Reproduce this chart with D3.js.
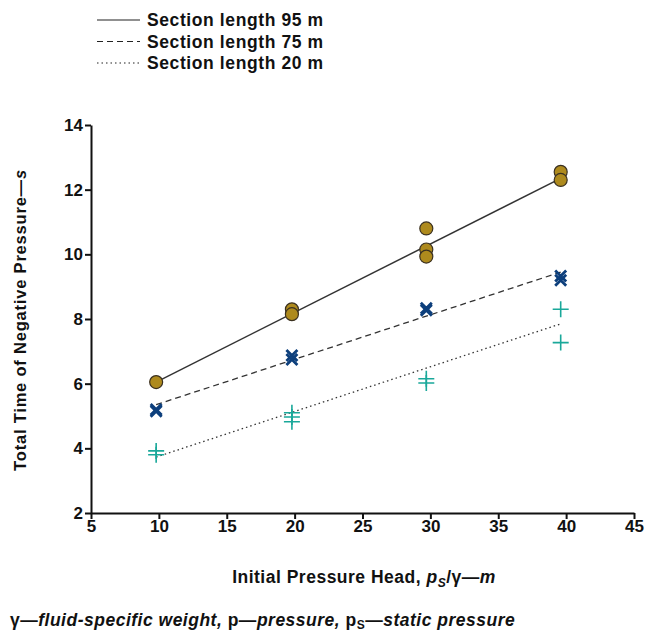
<!DOCTYPE html>
<html>
<head>
<meta charset="utf-8">
<script src="https://cdn.jsdelivr.net/npm/d3@7"></script>
<style>
  body { margin: 0; background: #fff; }
  svg { font-family: "Liberation Sans", Arial, sans-serif; }
  .axis text { font-size: 17px; font-weight: bold; fill: #111; }
  .axis path, .axis line { stroke: #111; stroke-width: 2; }
</style>
</head>
<body>
<div id="chart"></div>
<script>
// values
const xTicks = [5, 10, 15, 20, 25, 30, 35, 40, 45];
const yTicks = [2, 4, 6, 8, 10, 12, 14];

const circleX = [9.8, 19.8, 19.8, 29.7, 29.7, 29.7, 39.6, 39.6];
const circleY = [6.05, 8.3, 8.15, 10.8, 10.15, 9.93, 12.55, 12.3];

const crossX = [9.8, 9.8, 19.8, 19.8, 29.7, 29.7, 39.6, 39.6];
const crossY = [5.2, 5.15, 6.87, 6.75, 8.33, 8.27, 9.33, 9.2];

const plusX = [9.8, 9.8, 19.8, 19.8, 19.8, 29.7, 29.7, 39.6, 39.6];
const plusY = [3.92, 3.8, 5.1, 4.97, 4.82, 6.15, 6.02, 8.3, 7.27];

const fitX = [9.8, 39.6];
const fit95 = [6.05, 12.35];
const fit75 = [5.35, 9.45];
const fit20 = [3.73, 7.85];

const legendLabels = ["Section length 95 m", "Section length 75 m", "Section length 20 m"];
const legendDash = [null, "6,4", "1.5,3"];

const W = 651, H = 634;
const svg = d3.select("#chart").append("svg").attr("width", W).attr("height", H);

const x = d3.scaleLinear().domain([5, 45]).range([91, 634]);
const y = d3.scaleLinear().domain([2, 14]).range([513, 125]);

// axes
svg.append("g")
   .attr("class", "axis")
   .attr("transform", "translate(0," + y(2) + ")")
   .call(d3.axisBottom(x).tickValues(xTicks).tickSize(6).tickSizeOuter(0).tickPadding(1));

svg.append("g")
   .attr("class", "axis")
   .attr("transform", "translate(" + x(5) + ",0)")
   .call(d3.axisLeft(y).tickValues(yTicks).tickSize(6).tickSizeOuter(0).tickPadding(2));

// fit lines
const line = d3.line().x(d => x(d[0])).y(d => y(d[1]));
[[fit95, null, 1.5], [fit75, "6,4", 1.3], [fit20, "1.5,3", 1.3]].forEach(([vals, dash, w]) => {
  svg.append("path")
     .attr("d", line(fitX.map((v, i) => [v, vals[i]])))
     .attr("fill", "none")
     .attr("stroke", "#333")
     .attr("stroke-width", w)
     .attr("stroke-dasharray", dash);
});

// circles
svg.append("g").selectAll("circle")
   .data(circleX.map((v, i) => [v, circleY[i]]))
   .join("circle")
   .attr("cx", d => x(d[0]))
   .attr("cy", d => y(d[1]))
   .attr("r", 6.5)
   .attr("fill", "#ae8a1d")
   .attr("stroke", "#3a3020")
   .attr("stroke-width", 1.2);

// crosses
const xs = 5.5;
svg.append("g").selectAll("path")
   .data(crossX.map((v, i) => [v, crossY[i]]))
   .join("path")
   .attr("d", d => {
     const cx = x(d[0]), cy = y(d[1]);
     return "M" + (cx - xs) + "," + (cy - xs) + "L" + (cx + xs) + "," + (cy + xs) +
            "M" + (cx - xs) + "," + (cy + xs) + "L" + (cx + xs) + "," + (cy - xs);
   })
   .attr("stroke", "#0d3f7c")
   .attr("stroke-width", 2.8)
   .attr("fill", "none");

// pluses
const ps = 8;
svg.append("g").selectAll("path")
   .data(plusX.map((v, i) => [v, plusY[i]]))
   .join("path")
   .attr("d", d => {
     const cx = x(d[0]), cy = y(d[1]);
     return "M" + (cx - ps) + "," + cy + "L" + (cx + ps) + "," + cy +
            "M" + cx + "," + (cy - ps) + "L" + cx + "," + (cy + ps);
   })
   .attr("stroke", "#1aa89a")
   .attr("stroke-width", 1.6)
   .attr("fill", "none");

// legend
const leg = svg.append("g");
legendLabels.forEach((t, i) => {
  const ly = 20 + i * 21.5;
  leg.append("line")
     .attr("x1", 97).attr("x2", 140)
     .attr("y1", ly).attr("y2", ly)
     .attr("stroke", "#222")
     .attr("stroke-width", 1.2)
     .attr("stroke-dasharray", legendDash[i]);
  leg.append("text")
     .attr("x", 147).attr("y", ly + 6)
     .attr("font-size", 17.5).attr("font-weight", "bold").attr("fill", "#111")
     .attr("letter-spacing", 0.6)
     .text(t);
});

// y axis title
const yt = svg.append("text")
   .attr("transform", "translate(26,320) rotate(-90)")
   .attr("text-anchor", "middle")
   .attr("font-size", 16.5).attr("font-weight", "bold").attr("fill", "#111")
   .attr("letter-spacing", 0.8);
yt.append("tspan").text("Total Time of Negative Pressure—");
yt.append("tspan").attr("font-style", "italic").text("s");

// x axis title
const xt = svg.append("text")
   .attr("x", 364).attr("y", 583)
   .attr("text-anchor", "middle")
   .attr("font-size", 17.5).attr("font-weight", "bold").attr("fill", "#111")
   .attr("letter-spacing", 0.5);
xt.append("tspan").text("Initial Pressure Head,  ");
xt.append("tspan").attr("font-style", "italic").text("p");
xt.append("tspan").attr("font-style", "italic").attr("font-size", 12).attr("dy", 4).text("S");
xt.append("tspan").attr("dy", -4).text("/γ—");
xt.append("tspan").attr("font-style", "italic").text("m");

// footnote
const fn = svg.append("text")
   .attr("x", 10).attr("y", 626)
   .attr("font-size", 17.5).attr("font-weight", "bold").attr("fill", "#111")
   .attr("letter-spacing", 0.5);
fn.append("tspan").text("γ—");
fn.append("tspan").attr("font-style", "italic").text("fluid-specific weight, ");
fn.append("tspan").text("p—");
fn.append("tspan").attr("font-style", "italic").text("pressure, ");
fn.append("tspan").text("p");
fn.append("tspan").attr("font-size", 12).attr("dy", 3).text("S");
fn.append("tspan").attr("dy", -3).text("—");
fn.append("tspan").attr("font-style", "italic").text("static pressure");
</script>
</body>
</html>
